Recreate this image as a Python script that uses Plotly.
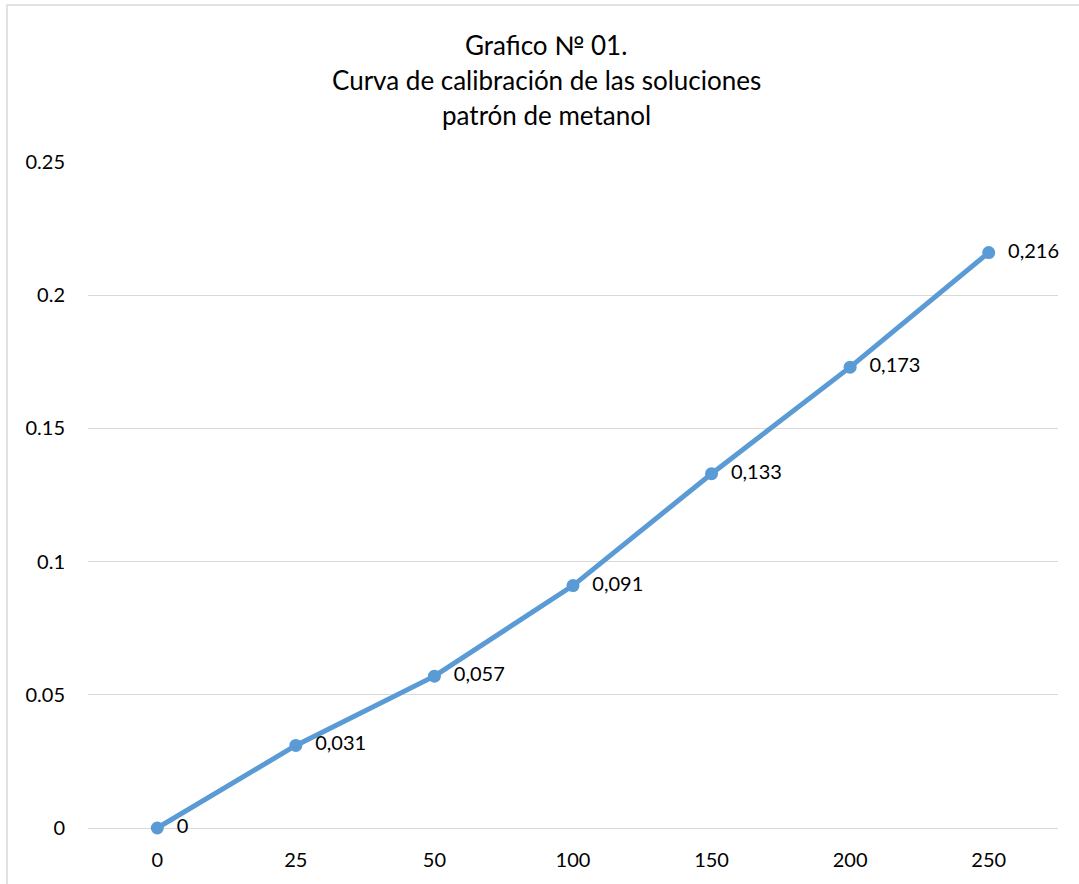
import plotly.graph_objects as go

categories = ["0", "25", "50", "100", "150", "200", "250"]
values = [0, 0.031, 0.057, 0.091, 0.133, 0.173, 0.216]
labels = ["0", "0,031", "0,057", "0,091", "0,133", "0,173", "0,216"]
y_ticks = [0, 0.05, 0.1, 0.15, 0.2, 0.25]
y_tick_text = ["0", "0.05", "0.1", "0.15", "0.2", "0.25"]
title_lines = ["Grafico № 01.", "Curva de calibración de las soluciones", "patrón de metanol"]

FONT = "Lato"
W, H = 1079, 884
L, R, T, B = 88, 21, 162, 56
pw, ph = W - L - R, H - T - B


def py(pix):
    return (H - B - pix) / ph


def px(pix):
    return (pix - L) / pw


fig = go.Figure()
fig.add_trace(go.Scatter(
    x=categories, y=values, mode="lines+markers+text",
    text=["  " + t for t in labels], textposition="middle right",
    textfont=dict(family=FONT, size=20, color="#000000"),
    line=dict(color="#5B9BD5", width=5),
    marker=dict(color="#5B9BD5", size=13),
    cliponaxis=False, showlegend=False, hoverinfo="skip",
))

annotations = []
for i, line in enumerate(title_lines):
    annotations.append(dict(
        text=line, xref="paper", yref="paper",
        x=px(546), y=py(45 + 35 * i), xanchor="center", yanchor="middle",
        showarrow=False, font=dict(family=FONT, size=26, color="#000000"),
    ))

fig.update_layout(
    width=W, height=H,
    margin=dict(l=L, r=R, t=T, b=B),
    paper_bgcolor="white", plot_bgcolor="white",
    annotations=annotations,
    xaxis=dict(
        type="category", range=[-0.5, 6.5],
        showgrid=False, showline=False, zeroline=False,
        tickfont=dict(family=FONT, size=20, color="#000000"),
        ticks="", ticklabelstandoff=18,
    ),
    yaxis=dict(
        range=[0, 0.25], tickvals=y_ticks, ticktext=y_tick_text,
        showgrid=True, gridcolor="#D9D9D9", gridwidth=1.3,
        zeroline=True, zerolinecolor="#D9D9D9", zerolinewidth=1.3,
        showline=False,
        tickfont=dict(family=FONT, size=20, color="#000000"),
        ticks="", ticklabelstandoff=22,
    ),
    shapes=[dict(
        type="rect", xref="paper", yref="paper",
        x0=px(7), x1=px(W + 10),
        y0=py(H + 10), y1=py(5),
        line=dict(color="#D9D9D9", width=1.5), fillcolor="rgba(0,0,0,0)",
        layer="below",
    )],
)

fig.write_html(
    "out.html",
    config={"displayModeBar": False},
    post_script="document.body.style.margin='0px';document.body.style.overflow='hidden';",
)
